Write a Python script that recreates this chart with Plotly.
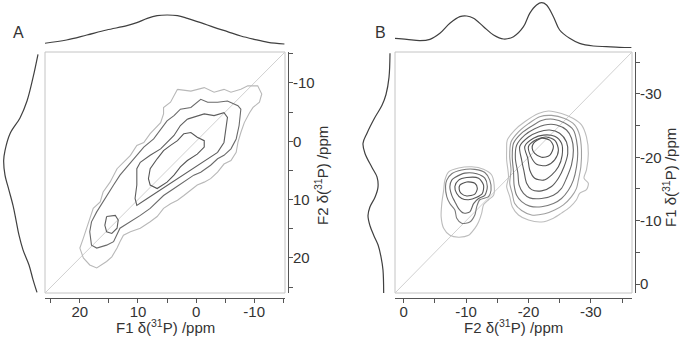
import plotly.graph_objects as go

W, H = 685, 342

# ---------------- data (ppm) ----------------
# Panel A: x = F1, y = F2
a_range = [26.0, -15.3]
a_tickvals = [20, 10, 0, -10]
a_ticktext = ["20", "10", "0", "-10"]
a_ytickvals = [-10, 0, 10, 20]
a_yticktext = ["-10", "0", "10", "20"]

a_contour1 = [(3.2, -8.9), (0.9, -8.6), (-1.4, -9.2), (-3.1, -8.4), (-4.8, -8.9), (-6.0, -8.4), (-7.7, -8.9),
              (-8.9, -9.5), (-10.6, -9.5), (-11.3, -8.1), (-10.9, -6.7), (-9.8, -5.8), (-9.2, -4.9), (-8.3, -3.2),
              (-7.7, -1.5), (-7.2, 0.2), (-6.9, 1.9), (-6.0, 3.3), (-4.8, 3.9), (-3.7, 5.3), (-2.5, 6.4), (-1.4, 7.0),
              (-0.2, 7.5), (0.9, 8.4), (2.1, 9.3), (3.2, 10.1), (4.4, 10.7), (5.6, 11.5), (6.7, 12.9), (7.9, 13.8),
              (9.6, 14.9), (11.3, 15.5), (12.5, 16.1), (13.1, 17.2), (13.6, 18.3), (14.5, 19.8), (15.4, 20.6),
              (17.1, 21.7), (18.3, 21.2), (19.4, 20.0), (20.0, 18.3), (19.4, 16.6), (18.8, 14.9), (18.3, 13.2),
              (17.7, 11.5), (16.5, 10.4), (16.0, 8.7), (14.8, 7.0), (13.6, 4.7), (12.5, 3.6), (11.3, 2.4),
              (10.2, 0.7), (9.0, 0.2), (7.9, -1.3), (6.1, -3.2), (5.6, -4.7), (5.6, -5.8), (4.4, -6.7), (3.8, -7.8)]
a_contour2 = [(3.8, -4.4), (2.7, -5.5), (0.9, -5.8), (-0.8, -7.2), (-2.0, -6.7), (-3.7, -6.7), (-5.4, -6.9),
              (-7.2, -6.1), (-7.7, -5.5), (-7.4, -2.7), (-6.9, -0.4), (-6.0, 1.3), (-4.8, 2.4), (-3.7, 3.0),
              (-2.5, 4.1), (-0.8, 5.3), (0.4, 5.8), (2.1, 7.0), (3.8, 8.1), (5.6, 9.3), (6.7, 10.4), (7.9, 11.5),
              (9.6, 12.7), (11.3, 13.8), (13.1, 14.9), (14.2, 17.2), (15.4, 17.8), (17.1, 18.3), (18.0, 17.8),
              (18.3, 15.5), (18.0, 13.8), (17.1, 12.1), (15.4, 9.3), (14.2, 7.5), (13.1, 5.8), (11.6, 4.1),
              (10.2, 2.4), (9.0, 1.0), (7.3, -0.4), (6.1, -2.1), (5.0, -3.5)]
a_contour3 = [(1.5, -3.8), (-0.2, -4.4), (-1.4, -4.7), (-3.1, -4.4), (-4.8, -4.9), (-5.4, -4.1), (-5.1, -1.5),
              (-4.8, 0.2), (-3.7, 1.9), (-2.0, 3.0), (-0.2, 4.1), (1.5, 5.3), (3.2, 6.4), (5.0, 7.5), (6.7, 8.7),
              (8.4, 9.8), (10.2, 11.0), (10.5, 9.8), (10.2, 7.5), (10.2, 4.7), (9.6, 3.6), (7.9, 2.4), (6.1, 1.3),
              (5.0, 0.2), (3.8, -1.0), (2.7, -2.7)]
a_contour4 = [(2.1, -1.3), (0.9, -1.5), (-0.2, -0.7), (-1.4, -0.1), (-1.4, 1.0), (-0.2, 2.2), (1.5, 3.3),
              (2.7, 4.4), (3.8, 5.8), (5.0, 7.0), (6.7, 8.1), (7.9, 7.5), (8.2, 6.4), (7.9, 4.7), (6.7, 3.0),
              (5.6, 1.6), (4.4, 0.7), (3.2, -0.1)]
a_island = [(15.4, 12.9), (13.9, 12.7), (13.4, 13.5), (13.6, 14.9), (14.5, 15.8), (15.4, 15.5), (15.7, 14.4)]

# projections (ppm, intensity a.u.)
a_top_f1 = [26.1, 22.3, 18.8, 15.4, 11.9, 10.2, 8.4, 6.7, 5.0, 3.2, 1.5, -0.8, -3.1, -5.4, -7.7, -10.0, -12.4, -15.2]
a_top_int = [14, 24, 39, 54, 67, 76, 89, 97, 99, 97, 89, 76, 62, 49, 36, 26, 17, 12]
a_left_f2 = [-14.9, -10.9, -6.9, -4.0, -1.3, 1.6, 3.3, 5.8, 8.4, 11.0, 13.5, 16.1, 18.6, 21.2, 23.7, 25.9]
a_left_int = [12, 27, 45, 66, 96, 111, 115, 111, 99, 87, 78, 69, 57, 39, 27, 15]

# Panel B: x = F2, y = F1
b_range = [1.4, -36.6]
b_tickvals = [0, -10, -20, -30]
b_ticktext = ["0", "-10", "-20", "-30"]

b_small1 = [(-7.2, -17.7), (-8.8, -18.3), (-10.9, -18.5), (-12.8, -18.1), (-14.1, -17.2), (-14.5, -15.6),
            (-14.4, -14.0), (-13.6, -13.3), (-12.8, -12.5), (-12.5, -11.2), (-12.0, -9.8), (-11.4, -8.8),
            (-10.4, -7.7), (-8.8, -7.4), (-7.4, -7.7), (-6.4, -8.8), (-6.0, -10.6), (-6.1, -12.7), (-6.4, -14.8),
            (-6.6, -16.4)]
b_small2 = [(-7.7, -17.4), (-9.3, -18.0), (-11.4, -18.1), (-13.0, -17.6), (-13.8, -16.4), (-14.0, -14.8),
            (-13.6, -13.8), (-12.2, -13.3), (-11.7, -12.2), (-11.4, -10.9), (-10.6, -9.8), (-9.3, -9.6),
            (-8.5, -10.4), (-8.2, -11.7), (-7.4, -12.7), (-6.9, -13.8), (-6.7, -15.4), (-6.9, -16.4)]
b_small3 = [(-8.2, -16.8), (-9.8, -17.5), (-11.7, -17.4), (-13.0, -16.7), (-13.4, -15.4), (-13.0, -14.0),
            (-12.0, -13.5), (-11.2, -12.7), (-10.6, -11.4), (-9.6, -11.2), (-8.8, -11.9), (-8.2, -13.0),
            (-7.7, -14.0), (-7.4, -15.4), (-7.7, -16.4)]
b_small4 = [(-8.8, -16.4), (-10.1, -16.8), (-12.0, -16.7), (-12.8, -15.6), (-12.6, -14.3), (-11.7, -13.7),
            (-10.4, -13.3), (-9.3, -13.5), (-8.5, -14.3), (-8.2, -15.4)]
b_small5 = [(-9.0, -15.6), (-10.1, -16.1), (-11.4, -15.9), (-11.8, -15.1), (-11.4, -14.2), (-10.1, -13.9),
            (-9.2, -14.3), (-8.9, -14.9)]

b_large1 = [(-16.6, -22.7), (-17.8, -24.3), (-19.4, -25.6), (-21.6, -26.9), (-23.2, -27.3), (-25.3, -26.9),
            (-27.2, -26.1), (-28.5, -25.1), (-29.3, -23.2), (-29.6, -20.6), (-29.3, -18.0), (-28.9, -16.7),
            (-29.6, -15.9), (-29.3, -14.9), (-28.2, -14.3), (-27.7, -13.3), (-26.6, -12.1), (-25.3, -11.2),
            (-24.0, -10.4), (-22.1, -9.8), (-20.0, -10.1), (-18.4, -10.9), (-17.4, -12.2), (-17.0, -13.8),
            (-16.5, -15.4), (-16.8, -16.9), (-16.5, -19.6), (-16.5, -21.1)]
b_large2 = [(-17.2, -22.4), (-18.4, -24.0), (-20.0, -25.3), (-21.8, -26.4), (-23.7, -26.6), (-25.8, -26.1),
            (-27.4, -25.1), (-28.2, -23.5), (-28.5, -21.1), (-28.4, -18.5), (-28.0, -16.4), (-27.7, -15.1),
            (-26.9, -13.8), (-25.6, -12.5), (-24.2, -11.7), (-22.6, -11.1), (-20.5, -10.9), (-18.9, -11.6),
            (-17.8, -12.7), (-17.4, -14.3), (-17.0, -15.9), (-17.2, -18.0), (-17.0, -20.1)]
b_large3 = [(-17.6, -22.2), (-18.9, -23.8), (-20.5, -24.9), (-22.1, -25.8), (-24.0, -26.0), (-25.8, -25.4),
            (-27.2, -24.3), (-27.7, -22.7), (-27.9, -20.6), (-27.7, -18.5), (-27.2, -16.4), (-26.4, -14.8),
            (-25.3, -13.5), (-24.0, -12.7), (-22.1, -12.2), (-20.2, -12.3), (-18.9, -13.0), (-18.1, -14.0),
            (-17.7, -15.6), (-17.6, -17.7), (-17.4, -20.1)]
b_large4 = [(-18.1, -21.9), (-19.4, -23.5), (-21.0, -24.5), (-22.6, -25.1), (-24.5, -25.1), (-26.1, -24.3),
            (-26.9, -23.0), (-27.2, -21.1), (-26.9, -18.8), (-26.1, -16.7), (-25.3, -15.1), (-24.0, -14.0),
            (-22.1, -13.5), (-20.2, -13.6), (-19.2, -14.3), (-18.5, -15.6), (-18.3, -17.5), (-17.9, -19.8)]
b_large5 = [(-18.6, -21.7), (-20.0, -23.2), (-21.6, -24.0), (-23.4, -24.3), (-25.0, -23.8), (-26.1, -22.4),
            (-26.3, -20.6), (-25.7, -18.5), (-24.8, -16.7), (-23.7, -15.4), (-22.1, -14.7), (-20.5, -14.9),
            (-19.7, -15.9), (-19.3, -17.7), (-18.9, -19.6)]
b_large6 = [(-19.4, -21.7), (-20.8, -23.0), (-22.4, -23.5), (-24.2, -23.3), (-25.3, -22.2), (-25.4, -20.3),
            (-24.8, -18.5), (-23.7, -17.2), (-22.4, -16.4), (-21.0, -16.7), (-20.2, -18.0), (-19.9, -19.8)]
b_large7 = [(-20.0, -21.7), (-21.3, -22.8), (-22.9, -23.2), (-24.3, -22.6), (-24.8, -21.1), (-24.2, -19.6),
            (-22.9, -18.7), (-21.3, -18.9), (-20.4, -20.1)]
b_large8 = [(-20.8, -22.2), (-22.1, -23.0), (-23.4, -22.7), (-24.0, -21.7), (-23.4, -20.3), (-22.1, -20.0),
            (-21.0, -20.6), (-20.6, -21.4)]

b_top_f2 = [1.4, -0.5, -2.6, -4.2, -5.8, -7.4, -9.0, -10.1, -11.2, -12.8, -14.4, -16.0, -17.6, -19.2, -20.2,
            -21.3, -22.1, -22.9, -24.0, -25.0, -26.6, -28.2, -30.4, -32.5, -34.6, -36.5]
b_top_int = [29, 26, 22, 26, 44, 74, 94, 96, 89, 64, 39, 27, 34, 64, 104, 129, 136, 129, 94, 54, 29, 14, 6, 4, 2, 1]
b_left_f1 = [-36.4, -32.6, -29.9, -28.2, -26.3, -23.8, -22.2, -20.6, -18.4, -16.9, -15.3, -13.7, -12.2, -10.8,
             -9.2, -7.6, -6.2, -4.3, -2.2, 1.4]
b_left_int = [6, 9, 18, 30, 51, 75, 87, 81, 60, 45, 42, 51, 66, 72, 66, 54, 42, 33, 27, 25]

a_contour_colors = ["#b8b8b8", "#6a6a6a", "#5e5e5e", "#555555", "#5e5e5e"]
b_contour_colors = ["#bdbdbd", "#a0a0a0", "#7a7a7a", "#666666", "#5a5a5a", "#555555", "#555555", "#505050"]

FONT = "Liberation Sans, Arial, sans-serif"
TXT = "#333333"
AX = "#555555"

fig = go.Figure()


def add_closed(pts, color, xa, ya, shape="linear", width=1.1):
    xs = [p[0] for p in pts] + [pts[0][0]]
    ys = [p[1] for p in pts] + [pts[0][1]]
    line = dict(color=color, width=width, shape=shape)
    if shape == "spline":
        line["smoothing"] = 0.8
    fig.add_trace(go.Scatter(x=xs, y=ys, mode="lines", xaxis=xa, yaxis=ya, line=line,
                             hoverinfo="skip", showlegend=False))


def add_line(xs, ys, color, xa, ya, width=1.2, shape="spline"):
    fig.add_trace(go.Scatter(x=xs, y=ys, mode="lines", xaxis=xa, yaxis=ya,
                             line=dict(color=color, width=width, shape=shape),
                             hoverinfo="skip", showlegend=False))


# diagonals
add_line(a_range, a_range, "#d0d0d0", "x", "y", width=1, shape="linear")
add_line(b_range, b_range, "#d0d0d0", "x4", "y4", width=1, shape="linear")

# Panel A contours
for pts, col in zip([a_contour1, a_contour2, a_contour3, a_contour4, a_island], a_contour_colors):
    add_closed(pts, col, "x", "y")

# Panel B contours
for pts, col in zip([b_small1, b_small2, b_small3, b_small4, b_small5], [b_contour_colors[i] for i in (0, 2, 3, 5, 7)]):
    add_closed(pts, col, "x4", "y4", shape="spline")
for pts, col in zip([b_large1, b_large2, b_large3, b_large4, b_large5, b_large6, b_large7, b_large8], b_contour_colors):
    add_closed(pts, col, "x4", "y4", shape="spline")

# projections
add_line(a_top_f1, a_top_int, "#404040", "x2", "y2")
add_line(a_left_int, a_left_f2, "#404040", "x3", "y3")
add_line(b_top_f2, b_top_int, "#404040", "x5", "y5")
add_line(b_left_int, b_left_f1, "#404040", "x6", "y6")

minor = dict(dtick=5, tick0=0, ticks="outside", ticklen=4, tickwidth=1, tickcolor=AX, showgrid=False)
main_common = dict(showgrid=False, zeroline=False, showline=True, linecolor=AX, linewidth=1,
                   ticks="outside", ticklen=4, tickwidth=1, tickcolor=AX, automargin=False,
                   tickfont=dict(family=FONT, size=15, color=TXT), tickmode="array", minor=minor)
hidden = dict(visible=False, showgrid=False, zeroline=False, automargin=False)

ydom = [1 - 293 / H, 1 - 52 / H]
a_xdom = [45 / W, 285 / W]
b_xdom = [395 / W, 632 / W]
topdom = [1 - 48 / H, 1.0]

fig.update_layout(
    width=W, height=H, autosize=False,
    margin=dict(l=0, r=0, t=0, b=0),
    paper_bgcolor="white", plot_bgcolor="white",
    font=dict(family=FONT, size=15, color=TXT),
    showlegend=False,
    xaxis=dict(domain=a_xdom, range=a_range, anchor="free", position=1 - 298 / H,
               tickvals=a_tickvals, ticktext=a_ticktext, ticklabelstandoff=-4, **main_common),
    yaxis=dict(domain=ydom, range=a_range, anchor="free", position=288 / W, side="right",
               tickvals=a_ytickvals, ticktext=a_yticktext, ticklabelstandoff=-3, **main_common),
    xaxis2=dict(domain=a_xdom, range=a_range, anchor="y2", **hidden),
    yaxis2=dict(domain=topdom, range=[0, 144], anchor="x2", **hidden),
    xaxis3=dict(domain=[0, 42 / W], range=[126, 0], anchor="y3", **hidden),
    yaxis3=dict(domain=ydom, range=a_range, anchor="x3", **hidden),
    xaxis4=dict(domain=b_xdom, range=b_range, anchor="free", position=1 - 298 / H,
                tickvals=b_tickvals, ticktext=b_ticktext, ticklabelstandoff=-4, **main_common),
    yaxis4=dict(domain=ydom, range=b_range, anchor="free", position=635 / W, side="right",
                tickvals=b_tickvals, ticktext=b_ticktext, ticklabelstandoff=-3, **main_common),
    xaxis5=dict(domain=b_xdom, range=b_range, anchor="y5", **hidden),
    yaxis5=dict(domain=topdom, range=[0, 144], anchor="x5", **hidden),
    xaxis6=dict(domain=[350 / W, 392 / W], range=[126, 0], anchor="y6", **hidden),
    yaxis6=dict(domain=ydom, range=b_range, anchor="x6", **hidden),
    shapes=[
        dict(type="rect", xref="x domain", yref="y domain", x0=0, x1=1, y0=0, y1=1,
             line=dict(color="#c4c4c4", width=1), layer="below"),
        dict(type="rect", xref="x4 domain", yref="y4 domain", x0=0, x1=1, y0=0, y1=1,
             line=dict(color="#c4c4c4", width=1), layer="below"),
    ],
    annotations=[
        dict(text="F1 δ(<sup>31</sup>P) /ppm", x=165 / W, y=1 - 326 / H, xref="paper", yref="paper",
             showarrow=False, xanchor="center", yanchor="middle", font=dict(size=15)),
        dict(text="F2 δ(<sup>31</sup>P) /ppm", x=513 / W, y=1 - 326 / H, xref="paper", yref="paper",
             showarrow=False, xanchor="center", yanchor="middle", font=dict(size=15)),
        dict(text="F2 δ(<sup>31</sup>P) /ppm", x=321 / W, y=1 - 176 / H, xref="paper", yref="paper",
             showarrow=False, xanchor="center", yanchor="middle", textangle=-90, font=dict(size=15)),
        dict(text="F1 δ(<sup>31</sup>P) /ppm", x=669 / W, y=1 - 178 / H, xref="paper", yref="paper",
             showarrow=False, xanchor="center", yanchor="middle", textangle=-90, font=dict(size=15)),
        dict(text="A", x=18.5 / W, y=1 - 33 / H, xref="paper", yref="paper",
             showarrow=False, xanchor="center", yanchor="middle", font=dict(size=16)),
        dict(text="B", x=380 / W, y=1 - 33 / H, xref="paper", yref="paper",
             showarrow=False, xanchor="center", yanchor="middle", font=dict(size=16)),
    ],
)

fig.write_html("out.html", config={"displayModeBar": False, "staticPlot": True},
               post_script="document.body.style.margin='0';document.body.style.overflow='hidden';")
